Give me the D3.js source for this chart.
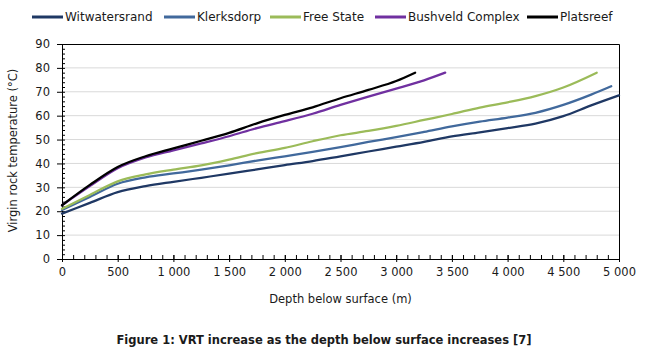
<!DOCTYPE html>
<html>
<head>
<meta charset="utf-8">
<script src="https://cdn.jsdelivr.net/npm/d3@7"></script>
<style>
    html, body { margin: 0; padding: 0; background: #fff; overflow: hidden; }
    svg { display: block; overflow: visible; }
</style>
</head>
<body>
<svg id="chart"></svg>
<script>
const seriesNames = ["Witwatersrand", "Klerksdorp", "Free State", "Bushveld Complex", "Platsreef"];

const witDepth = [0, 250, 500, 750, 1000, 1250, 1500, 1750, 2000, 2250, 2500, 2750, 3000, 3250, 3500, 3750, 4000, 4250, 4500, 4750, 5000];
const witTemp  = [19, 23.5, 28, 30.5, 32.3, 34, 35.7, 37.5, 39.3, 41, 43, 45, 47, 49, 51.3, 53, 54.8, 56.7, 59.8, 64.3, 68.5];

const klkDepth = [0, 250, 500, 750, 1000, 1250, 1500, 1750, 2000, 2250, 2500, 2750, 3000, 3250, 3500, 3750, 4000, 4250, 4500, 4750, 4930];
const klkTemp  = [20.5, 26, 31.5, 34.2, 35.8, 37.4, 39.2, 41.2, 43, 44.8, 46.8, 49, 51, 53.2, 55.5, 57.5, 59.2, 61.2, 64.5, 68.8, 72.3];

const fsDepth = [0, 250, 500, 750, 1000, 1250, 1500, 1750, 2000, 2250, 2500, 2750, 3000, 3250, 3500, 3750, 4000, 4250, 4500, 4800];
const fsTemp  = [21, 26.8, 32.5, 35.4, 37.4, 39.2, 41.6, 44.3, 46.5, 49.3, 51.8, 53.6, 55.7, 58.2, 60.7, 63.4, 65.6, 68.2, 71.8, 78];

const bvDepth = [0, 250, 500, 750, 1000, 1250, 1500, 1750, 2000, 2250, 2500, 2750, 3000, 3250, 3440];
const bvTemp  = [22.5, 30.5, 38, 42.5, 45.5, 48.4, 51.4, 54.8, 57.7, 60.8, 64.5, 68, 71.3, 74.8, 78];

const prDepth = [0, 250, 500, 750, 1000, 1250, 1500, 1750, 2000, 2250, 2500, 2750, 3000, 3170];
const prTemp  = [22.5, 31, 38.5, 43, 46.3, 49.5, 52.8, 56.8, 60.3, 63.5, 67.3, 70.8, 74.5, 78];

const xTicks = [0, 500, 1000, 1500, 2000, 2500, 3000, 3500, 4000, 4500, 5000];
const yTicks = [0, 10, 20, 30, 40, 50, 60, 70, 80, 90];

const colors = ["#1f3864", "#41699c", "#9bbb59", "#7030a0", "#000000"];

const seriesData = [
    { name: seriesNames[0], depth: witDepth, temp: witTemp },
    { name: seriesNames[1], depth: klkDepth, temp: klkTemp },
    { name: seriesNames[2], depth: fsDepth, temp: fsTemp },
    { name: seriesNames[3], depth: bvDepth, temp: bvTemp },
    { name: seriesNames[4], depth: prDepth, temp: prTemp }
].map((s, i) => ({
    name: s.name,
    color: colors[i],
    points: s.depth.map((d, j) => ({ depth: d, temp: s.temp[j] }))
}));

const FONT = "DejaVu Sans, Verdana, sans-serif";
const width = 648, height = 350;
const margin = { top: 44, right: 29, bottom: 91, left: 62 };
const innerWidth = width - margin.left - margin.right;
const innerHeight = height - margin.top - margin.bottom;

const svg = d3.select("#chart")
    .attr("width", width)
    .attr("height", height)
    .attr("viewBox", `0 0 ${width} ${height}`);

const xScale = d3.scaleLinear().domain([0, 5000]).range([margin.left, margin.left + innerWidth]);
const yScale = d3.scaleLinear().domain([0, 90]).range([margin.top + innerHeight, margin.top]);

const spaceFormat = d3.formatLocale({ decimal: ".", thousands: " ", grouping: [3], currency: ["", ""] }).format(",");

// gridlines
svg.append("g")
    .selectAll("line")
    .data(yTicks.filter(t => t > 0 && t < 90))
    .join("line")
    .attr("x1", xScale(0))
    .attr("x2", xScale(5000))
    .attr("y1", d => yScale(d))
    .attr("y2", d => yScale(d))
    .attr("stroke", "#d9d9d9")
    .attr("stroke-width", 1);

// top and right border
svg.append("path")
    .attr("d", `M${xScale(0)},${yScale(90) + 0.5}H${xScale(5000) + 0.5}V${yScale(0)}`)
    .attr("fill", "none")
    .attr("stroke", "#000")
    .attr("stroke-width", 1);

// minor ticks
svg.append("g")
    .attr("transform", `translate(${xScale(0)},0)`)
    .call(d3.axisRight(yScale).tickValues(d3.range(0, 91, 2)).tickSize(3).tickFormat(""))
    .call(g => g.select(".domain").remove());

svg.append("g")
    .attr("transform", `translate(0,${yScale(0)})`)
    .call(d3.axisTop(xScale).tickValues(d3.range(0, 5001, 100)).tickSize(4).tickFormat(""))
    .call(g => g.select(".domain").remove());

// major axes
svg.append("g")
    .attr("transform", `translate(${xScale(0)},0)`)
    .call(d3.axisLeft(yScale).tickValues(yTicks).tickSize(5).tickPadding(7).tickFormat(d3.format("d")))
    .attr("font-family", FONT)
    .attr("font-size", 11.5);

const xAxis = svg.append("g")
    .attr("transform", `translate(0,${yScale(0)})`)
    .call(d3.axisBottom(xScale).tickValues(xTicks).tickSize(3).tickPadding(6).tickFormat(spaceFormat))
    .attr("font-family", FONT)
    .attr("font-size", 11.5);
xAxis.selectAll(".tick line").attr("y1", -4);

svg.selectAll(".domain").attr("stroke", "#000");
svg.selectAll(".tick line").attr("stroke", "#000");
svg.selectAll(".tick text").attr("fill", "#1a1a1a");

// lines
const line = d3.line()
    .x(d => xScale(d.depth))
    .y(d => yScale(d.temp))
    .curve(d3.curveMonotoneX);

svg.append("g")
    .selectAll("path")
    .data(seriesData)
    .join("path")
    .attr("d", d => line(d.points))
    .attr("fill", "none")
    .attr("stroke", d => d.color)
    .attr("stroke-width", 2.25)
    .attr("stroke-linejoin", "round")
    .attr("stroke-linecap", "round");

// axis titles
svg.append("text")
    .attr("x", (xScale(0) + xScale(5000)) / 2)
    .attr("y", 303)
    .attr("text-anchor", "middle")
    .attr("font-family", FONT)
    .attr("font-size", 11.5)
    .attr("fill", "#1a1a1a")
    .text("Depth below surface (m)");

svg.append("text")
    .attr("transform", `translate(17,${(yScale(0) + yScale(90)) / 2 - 1}) rotate(-90)`)
    .attr("text-anchor", "middle")
    .attr("font-family", FONT)
    .attr("font-size", 11.5)
    .attr("fill", "#1a1a1a")
    .text("Virgin rock temperature (°C)");

// legend
const legendX = [32, 164, 270, 375, 527];
const legend = svg.append("g")
    .selectAll("g")
    .data(seriesData)
    .join("g")
    .attr("transform", (d, i) => `translate(${legendX[i]},17)`);

legend.append("line")
    .attr("x1", 0).attr("x2", 31)
    .attr("stroke", d => d.color)
    .attr("stroke-width", 3);

legend.append("text")
    .attr("x", 33)
    .attr("y", 4)
    .attr("font-family", FONT)
    .attr("font-size", 12)
    .attr("fill", "#1a1a1a")
    .text(d => d.name);

// caption
svg.append("text")
    .attr("x", 324)
    .attr("y", 344)
    .attr("text-anchor", "middle")
    .attr("font-family", FONT)
    .attr("font-size", 11.5)
    .attr("font-weight", "bold")
    .attr("fill", "#1a1a1a")
    .text("Figure 1: VRT increase as the depth below surface increases [7]");
</script>
</body>
</html>
